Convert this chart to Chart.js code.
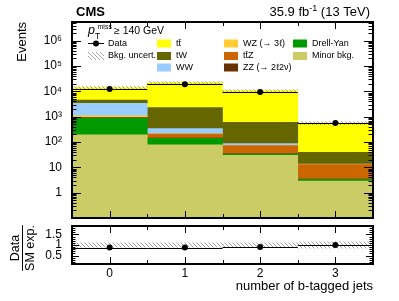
<!DOCTYPE html>
<html>
<head>
<meta charset="utf-8">
<script src="https://cdn.jsdelivr.net/npm/chart.js@4.4.0/dist/chart.umd.min.js"></script>
<style>
  body { margin: 0; background: #fff; }
  #wrap { position: relative; width: 399px; height: 301px; }
  canvas { position: absolute; left: 0; }
  #main { top: 0; }
  #ratio { top: 222px; }
</style>
</head>
<body>
<div id="wrap">
  <canvas id="main" width="399" height="222"></canvas>
  <canvas id="ratio" width="399" height="79"></canvas>
</div>
<script>
const font = "'Liberation Sans', Arial, sans-serif";
Chart.defaults.font.family = font;
Chart.defaults.color = '#000';

const bins = ['0', '1', '2', '3'];

// background yields per bin, bottom of the stack first
const minorBkg = [194, 77, 29.7, 2.84];
const drellYan = [689, 62, 3.7, 0.56];
const zz = [15, 3, 0.5, 0.05];
const ttz = [50, 63, 39, 9.5];
const wz = [130, 7, 1.5, 0.1];
const ww = [2290, 128, 12, 0.3];
const tw = [1150, 1952, 514, 25.6];
const ttbar = [9480, 19600, 9850, 526];

const dataCounts = [12300, 19300, 9400, 565];
const ratio = [0.88, 0.88, 0.9, 1.0];
const bkgUnc = [0.1, 0.1, 0.1, 0.15]; // relative

const yTicks = [1, 10, 100, 1e3, 1e4, 1e5, 1e6];
const yTickLabels = ['1', '10', '10²', '10³', '10⁴', '10⁵', '10⁶'];
const ratioTicks = [0.5, 1, 1.5];
const ratioTickLabels = ['0.5', '1', '1.5'];

const stackDefs = [
  { label: 'Minor bkg.', values: minorBkg, color: '#cccc66' },
  { label: 'Drell-Yan', values: drellYan, color: '#009900' },
  { label: 'ZZ (→ 2ℓ2ν)', values: zz, color: '#663300' },
  { label: 'tt\u0304Z', values: ttz, color: '#cc6600' },
  { label: 'WZ (→ 3ℓ)', values: wz, color: '#ffcc33' },
  { label: 'WW', values: ww, color: '#99ccff' },
  { label: 'tW', values: tw, color: '#666600' },
  { label: 'tt\u0304', values: ttbar, color: '#ffff00' },
];

const totals = bins.map((_, i) => stackDefs.reduce((s, d) => s + d.values[i], 0));

const makeHatch = () => {
  const c = document.createElement('canvas');
  c.width = 4; c.height = 4;
  const g = c.getContext('2d');
  g.strokeStyle = '#8a8a8a';
  g.lineWidth = 0.8;
  g.beginPath();
  g.moveTo(0, 0); g.lineTo(4, 4);
  g.moveTo(-1, 3); g.lineTo(1, 5);
  g.moveTo(3, -1); g.lineTo(5, 1);
  g.stroke();
  return g.createPattern(c, 'repeat');
};
const hatch = makeHatch();

// keep chart areas fixed so the two panels line up
const fixY = (s) => { s.width = 72; s.paddingTop = 0; s.paddingBottom = 0; };
const fixX = (h) => (s) => { s.height = h; s.paddingLeft = 0; s.paddingRight = 0; };

// ROOT style frame, inward ticks and data x-error lines
const rootFrame = {
  id: 'rootFrame',
  afterDatasetsDraw(chart, args, opts) {
    const { ctx, chartArea: a, scales: { x, y } } = chart;
    const half = (x.getPixelForValue(1) - x.getPixelForValue(0)) / 2;
    ctx.save();
    ctx.strokeStyle = '#000';
    ctx.lineWidth = 1;
    opts.values.forEach((v, i) => {
      const py = Math.round(y.getPixelForValue(v)) + 0.5;
      const cx = x.getPixelForValue(i);
      ctx.beginPath();
      ctx.moveTo(cx - half, py);
      ctx.lineTo(cx + half, py);
      ctx.stroke();
    });

    const line = (x1, y1, x2, y2) => {
      ctx.beginPath(); ctx.moveTo(x1, y1); ctx.lineTo(x2, y2); ctx.stroke();
    };
    const vt = [];
    if (opts.log) {
      for (let k = -1; k <= 6; k++) {
        for (let m = 1; m <= 9; m++) {
          const v = m * Math.pow(10, k);
          if (v > y.min && v < y.max) vt.push([v, m === 1 ? 9 : 4.5]);
        }
      }
    } else {
      for (let n = 2; n <= 18; n++) vt.push([n / 10, n % 5 === 0 ? 7 : 3.5]);
    }
    vt.forEach(([v, len]) => {
      const py = Math.round(y.getPixelForValue(v)) + 0.5;
      line(a.left, py, a.left + len, py);
      line(a.right - len, py, a.right, py);
    });
    for (let t = 0; t <= 6; t++) {
      const px = Math.round(x.getPixelForValue(0) + (t - 1) * half + half) + 0.5;
      const len = t % 2 === 0 ? 7 : 4;
      line(px, a.bottom, px, a.bottom - len);
      line(px, a.top, px, a.top + len);
    }
    ctx.lineWidth = 2;
    ctx.strokeRect(a.left, a.top, a.right - a.left, a.bottom - a.top);
    ctx.restore();
  }
};

const cmsText = {
  id: 'cmsText',
  afterDraw(chart) {
    const ctx = chart.ctx;
    ctx.save();
    ctx.fillStyle = '#000';
    ctx.textBaseline = 'alphabetic';
    ctx.textAlign = 'left';
    ctx.font = `bold 13px ${font}`;
    ctx.fillText('CMS', 76, 15.5);

    ctx.font = `13px ${font}`;
    const w1 = ctx.measureText('35.9 fb').width;
    const w3 = ctx.measureText(' (13 TeV)').width;
    ctx.font = `9px ${font}`;
    const w2 = ctx.measureText('-1').width;
    const x0 = 370 - w1 - w2 - w3;
    ctx.font = `13px ${font}`;
    ctx.fillText('35.9 fb', x0, 16);
    ctx.fillText(' (13 TeV)', x0 + w1 + w2, 16);
    ctx.font = `9px ${font}`;
    ctx.fillText('-1', x0 + w1, 10.5);

    ctx.font = `italic 12.5px ${font}`;
    ctx.fillText('p', 88, 34);
    ctx.font = `8.5px ${font}`;
    ctx.fillText('T', 95, 38.5);
    ctx.font = `7px ${font}`;
    ctx.fillText('miss', 97.5, 29);
    ctx.font = `10.5px ${font}`;
    ctx.fillText('≥ 140 GeV', 114, 34);

    // legend
    ctx.font = `9px ${font}`;
    ctx.textBaseline = 'middle';
    const rows = [43.5, 56, 67.5];
    ctx.strokeStyle = '#000';
    ctx.lineWidth = 1;
    ctx.beginPath(); ctx.moveTo(88, rows[0]); ctx.lineTo(104, rows[0]); ctx.stroke();
    ctx.beginPath(); ctx.arc(96, rows[0], 3, 0, Math.PI * 2); ctx.fill();
    ctx.fillText('Data', 108, rows[0]);
    ctx.fillStyle = hatch;
    ctx.fillRect(88, rows[1] - 4, 16, 8);
    ctx.fillStyle = '#000';
    ctx.fillText('Bkg. uncert.', 108, rows[1]);

    const cols = [
      [157, ['tt\u0304', 'tW', 'WW']],
      [224, ['WZ (→ 3ℓ)', 'tt\u0304Z', 'ZZ (→ 2ℓ2ν)']],
      [293, ['Drell-Yan', 'Minor bkg.']],
    ];
    cols.forEach(([cx, labels]) => {
      labels.forEach((lab, r) => {
        const def = stackDefs.find(d => d.label === lab);
        ctx.fillStyle = def.color;
        ctx.fillRect(cx, rows[r] - 4, 14, 8);
        ctx.fillStyle = '#000';
        ctx.fillText(lab, cx + 19, rows[r]);
      });
    });
    ctx.restore();
  }
};

const ratioTitle = {
  id: 'ratioTitle',
  afterDraw(chart) {
    const ctx = chart.ctx;
    ctx.save();
    ctx.translate(22.5, 26);
    ctx.rotate(-Math.PI / 2);
    ctx.fillStyle = '#000';
    ctx.font = `12.5px ${font}`;
    ctx.textAlign = 'center';
    const w = ctx.measureText('SM exp.').width;
    ctx.textBaseline = 'bottom';
    ctx.fillText('Data', 0, -0.5);
    ctx.textBaseline = 'top';
    ctx.fillText('SM exp.', 0, 1.5);
    ctx.fillRect(-w / 2, -0.5, w, 1);
    ctx.restore();
  }
};

const binBar = {
  barPercentage: 1,
  categoryPercentage: 1,
  borderWidth: 0,
};

new Chart(document.getElementById('main'), {
  type: 'bar',
  data: {
    labels: bins,
    datasets: [
      {
        type: 'line',
        label: 'Data',
        data: dataCounts,
        showLine: false,
        pointRadius: 3,
        pointBackgroundColor: '#000',
        pointBorderWidth: 0,
        borderColor: '#000',
      },
      {
        label: 'Bkg. uncert.',
        data: totals.map((t, i) => [t * (1 - bkgUnc[i]), t * (1 + bkgUnc[i])]),
        backgroundColor: hatch,
        stack: 'unc',
        grouped: false,
        ...binBar,
      },
      ...stackDefs.map(d => ({
        label: d.label,
        data: d.values,
        backgroundColor: d.color,
        stack: 'bkg',
        ...binBar,
      })),
    ]
  },
  options: {
    responsive: false,
    animation: false,
    layout: { padding: { left: 0, top: 22, right: 26, bottom: 1 } },
    plugins: {
      legend: { display: false },
      tooltip: { enabled: false },
      rootFrame: { values: dataCounts, log: true },
    },
    scales: {
      x: { display: false, stacked: true },
      y: {
        type: 'logarithmic',
        stacked: true,
        min: 0.1,
        max: 5.5e6,
        grid: { display: false, drawTicks: false },
        border: { display: false },
        afterBuildTicks: (s) => { s.ticks = yTicks.map(v => ({ value: v })); },
        afterFit: fixY,
        ticks: {
          padding: 10,
          autoSkip: false,
          font: { size: 12 },
          callback: (v, i) => yTickLabels[i],
        },
        title: {
          display: true,
          text: 'Events',
          align: 'end',
          font: { size: 13 },
          padding: { top: 15, bottom: 0 },
        },
      },
    },
  },
  plugins: [rootFrame, cmsText],
});

new Chart(document.getElementById('ratio'), {
  type: 'bar',
  data: {
    labels: bins,
    datasets: [
      {
        type: 'line',
        label: 'Data / SM exp.',
        data: ratio,
        showLine: false,
        pointRadius: 3,
        pointBackgroundColor: '#000',
        pointBorderWidth: 0,
        borderColor: '#000',
      },
      {
        label: 'Bkg. uncert.',
        data: bkgUnc.map(u => [1 - u, 1 + u]),
        backgroundColor: hatch,
        ...binBar,
      },
    ]
  },
  options: {
    responsive: false,
    animation: false,
    layout: { padding: { left: 0, top: 4, right: 26, bottom: 0 } },
    plugins: {
      legend: { display: false },
      tooltip: { enabled: false },
      rootFrame: { values: ratio, log: false },
    },
    scales: {
      x: {
        grid: { display: false, drawTicks: false },
        border: { display: false },
        afterFit: fixX(37),
        ticks: { padding: 2, font: { size: 12 } },
        title: {
          display: true,
          text: 'number of b-tagged jets',
          align: 'end',
          font: { size: 13 },
          padding: { top: 0, bottom: 7 },
        },
      },
      y: {
        min: 0.1,
        max: 1.9,
        grid: { display: false, drawTicks: false },
        border: { display: false },
        afterBuildTicks: (s) => { s.ticks = ratioTicks.map(v => ({ value: v })); },
        afterFit: fixY,
        ticks: {
          padding: 10,
          autoSkip: false,
          font: { size: 12 },
          callback: (v, i) => ratioTickLabels[i],
        },
      },
    },
  },
  plugins: [rootFrame, ratioTitle],
});
</script>
</body>
</html>
